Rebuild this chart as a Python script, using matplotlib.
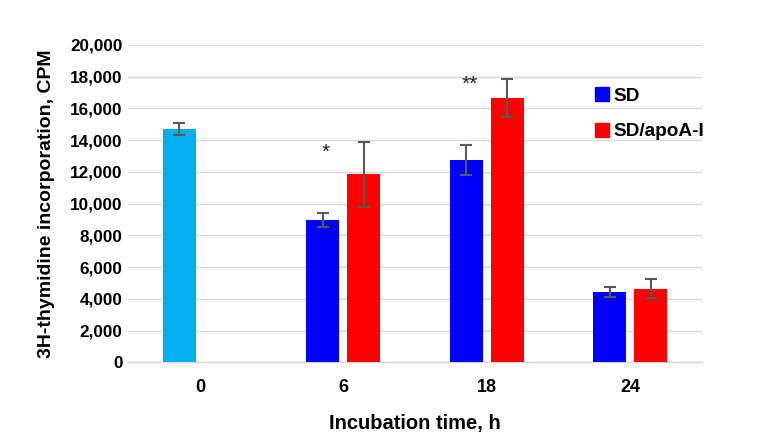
import numpy as np
import matplotlib.pyplot as plt
from matplotlib.ticker import FuncFormatter
from matplotlib.patches import Patch

plt.rcParams['font.family'] = ['Liberation Sans', 'DejaVu Sans']
plt.rcParams['font.weight'] = 'bold'

times = ['0', '6', '18', '24']
sd = [14700, 8950, 12750, 4430]
sd_err = [380, 430, 950, 300]
apo = [np.nan, 11850, 16650, 4620]
apo_err = [np.nan, 2050, 1200, 600]
sd_colors = ['#00B0F0', '#0000FF', '#0000FF', '#0000FF']
stars = ['', '*', '**', '']
star_y = [0, 13200, 17500, 0]

fig = plt.figure(figsize=(7.63, 4.45), dpi=100)
ax = fig.add_axes([0.168, 0.186, 0.752, 0.713])

x = np.arange(len(times))
w = 0.23
off = 0.143
ax.bar(x - off, sd, w, color=sd_colors, zorder=3)
ax.bar(x + off, apo, w, color='#FF0000', zorder=3)
ax.errorbar(x - off, sd, yerr=sd_err, fmt='none', ecolor='#595959', elinewidth=1.5, capsize=4, capthick=1.5, zorder=4)
ax.errorbar(x + off, apo, yerr=apo_err, fmt='none', ecolor='#595959', elinewidth=1.5, capsize=4, capthick=1.5, zorder=4)

for i, s in enumerate(stars):
    if s:
        ax.text(x[i] - 0.12, star_y[i], s, ha='center', va='center', fontsize=15, fontweight='normal', color='#222222')

ax.set_xlim(-0.5, 3.5)
ax.set_ylim(0, 20000)
ax.set_yticks(np.arange(0, 20001, 2000))
ax.yaxis.set_major_formatter(FuncFormatter(lambda v, p: f'{int(v):,}'))
ax.set_xticks(x)
ax.set_xticklabels(times)
ax.tick_params(axis='y', length=0, pad=4, labelsize=12.3)
ax.tick_params(axis='x', length=0, pad=12, labelsize=13)
ax.grid(axis='y', color='#D9D9D9', linewidth=1, zorder=0)
for sp in ['top', 'right', 'left']:
    ax.spines[sp].set_visible(False)
ax.spines['bottom'].set_color('#D9D9D9')
ax.spines['bottom'].set_linewidth(1)

ax.set_ylabel('3H-thymidine incorporation, CPM', fontsize=14, fontweight='bold', labelpad=11)
ax.set_xlabel('Incubation time, h', fontsize=14.5, fontweight='bold', labelpad=13)

handles = [Patch(color='#0000FF', label='SD'), Patch(color='#FF0000', label='SD/apoA-I')]
fig.legend(handles=handles, loc='upper left', bbox_to_anchor=(0.757, 0.843), frameon=False,
           fontsize=13.7, handlelength=0.75, handleheight=0.75, handletextpad=0.25, labelspacing=0.95)

plt.savefig('out.png')
